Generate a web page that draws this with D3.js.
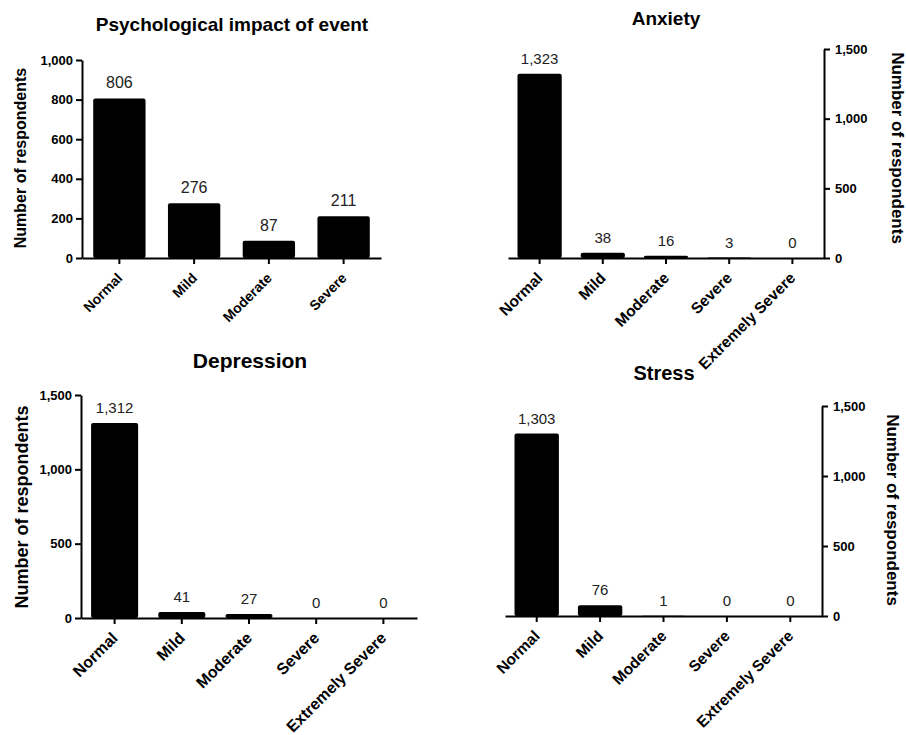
<!DOCTYPE html>
<html>
<head>
<meta charset="utf-8">
<script src="https://d3js.org/d3.v7.min.js"></script>
<style>
	body { margin: 0; background: #fff; }
	svg { font-family: "Liberation Sans", Arial, sans-serif; }
	.axis path, .axis line { stroke: #000; stroke-width: 2; }
	.axis text { font-weight: bold; fill: #000; }
</style>
</head>
<body>
<div id="container"></div>
<script>
// categories
var impactCats = ["Normal", "Mild", "Moderate", "Severe"];
var dassCats = ["Normal", "Mild", "Moderate", "Severe", "Extremely Severe"];

// values (number of respondents)
var impactVals = [806, 276, 87, 211];
var anxietyVals = [1323, 38, 16, 3, 0];
var depressionVals = [1312, 41, 27, 0, 0];
var stressVals = [1303, 76, 1, 0, 0];

// tick values
var impactTicks = [0, 200, 400, 600, 800, 1000];
var dassTicks = [0, 500, 1000, 1500];

var fmt = d3.format(",");

var svg = d3.select("#container").append("svg")
	.attr("width", 906)
	.attr("height", 735);

// one panel = one bar chart
function barPanel(p) {
	var g = svg.append("g");

	var x = d3.scaleBand().domain(p.cats).range([p.left, p.right]).paddingInner(0.3).paddingOuter(0.15);
	var y = d3.scaleLinear().domain([0, p.max]).range([p.bottom, p.top]);

	// bars
	g.selectAll(".bar")
		.data(p.vals).enter()
		.append("rect")
			.attr("class", "bar")
			.attr("x", function(d, i) { return x(p.cats[i]); })
			.attr("y", function(d) { return y(d); })
			.attr("width", x.bandwidth())
			.attr("height", function(d) { return p.bottom - y(d); })
			.attr("rx", 2)
			.style("fill", "#000");

	// value labels
	g.selectAll(".val")
		.data(p.vals).enter()
		.append("text")
			.attr("class", "val")
			.attr("x", function(d, i) { return x(p.cats[i]) + x.bandwidth() / 2; })
			.attr("y", function(d) { return y(d) - 10; })
			.style("text-anchor", "middle")
			.style("font-size", p.valSize + "px")
			.style("fill", "#222")
			.text(function(d) { return fmt(d); });

	// x axis
	var xAxis = g.append("g")
		.attr("class", "axis")
		.attr("transform", "translate(0," + p.bottom + ")")
		.call(d3.axisBottom(x).tickSize(6).tickSizeOuter(0));
	xAxis.selectAll("text")
		.style("font-size", p.catSize + "px")
		.style("text-anchor", "end")
		.attr("x", 0)
		.attr("y", 0)
		.attr("dy", 0)
		.attr("transform", "translate(4,21) rotate(-45)");

	// y axis
	var yAx = p.side == "left" ? d3.axisLeft(y) : d3.axisRight(y);
	var yAxis = g.append("g")
		.attr("class", "axis")
		.attr("transform", "translate(" + (p.side == "left" ? p.left : p.right) + ",0)")
		.call(yAx.tickValues(p.ticks).tickFormat(fmt).tickSize(6).tickSizeOuter(0).tickPadding(p.side == "left" ? 3 : 5));
	yAxis.selectAll("text").style("font-size", "13px");

	// title
	svg.append("text")
		.attr("x", p.titleX)
		.attr("y", p.titleY)
		.style("text-anchor", "middle")
		.style("font-weight", "bold")
		.style("font-size", p.titleSize + "px")
		.text(p.title);

	// y label
	svg.append("text")
		.attr("transform", "translate(" + p.labX + "," + p.labY + ") rotate(" + (p.side == "left" ? -90 : 90) + ")")
		.attr("dy", "0.35em")
		.style("text-anchor", "middle")
		.style("font-weight", "bold")
		.style("font-size", p.labSize + "px")
		.text("Number of respondents");
}

barPanel({cats: impactCats, vals: impactVals, ticks: impactTicks, max: 1000, side: "left",
	left: 82, right: 381, top: 60, bottom: 258,
	title: "Psychological impact of event", titleX: 232, titleY: 31, titleSize: 19,
	labX: 20, labY: 158, labSize: 16, valSize: 16, catSize: 14});

barPanel({cats: dassCats, vals: anxietyVals, ticks: dassTicks, max: 1500, side: "right",
	left: 508, right: 824, top: 49, bottom: 258,
	title: "Anxiety", titleX: 666, titleY: 25, titleSize: 19,
	labX: 898, labY: 148, labSize: 17, valSize: 15, catSize: 15.5});

barPanel({cats: dassCats, vals: depressionVals, ticks: dassTicks, max: 1500, side: "left",
	left: 81, right: 417, top: 395, bottom: 618,
	title: "Depression", titleX: 250, titleY: 368, titleSize: 21,
	labX: 22, labY: 507, labSize: 18, valSize: 15, catSize: 16});

barPanel({cats: dassCats, vals: stressVals, ticks: dassTicks, max: 1500, side: "right",
	left: 505, right: 822, top: 406, bottom: 616,
	title: "Stress", titleX: 664, titleY: 380, titleSize: 20,
	labX: 893, labY: 510, labSize: 17, valSize: 15, catSize: 15.5});
</script>
</body>
</html>
